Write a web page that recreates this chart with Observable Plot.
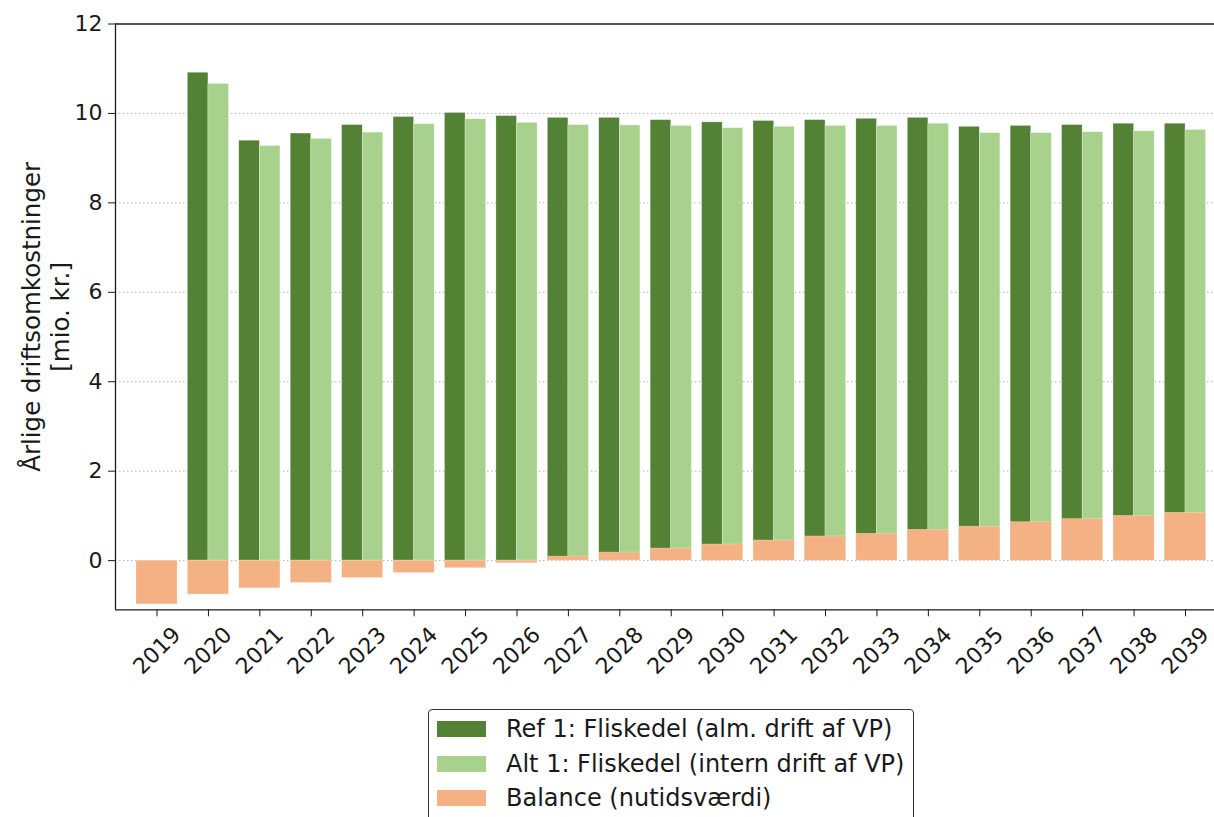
<!DOCTYPE html>
<html>
<head>
<meta charset="utf-8">
<script src="https://cdn.jsdelivr.net/npm/d3@7"></script>
<script src="https://cdn.jsdelivr.net/npm/@observablehq/plot@0.6"></script>
<style>
  html, body { margin: 0; padding: 0; background: #fff; }
  body { font-family: "DejaVu Sans", sans-serif; color: #1a1a1a; width: 1214px; height: 817px; overflow: hidden; position: relative; }
  #chart svg { display: block; }
  .legend { position: absolute; left: 428px; top: 709px; width: 486px; height: 130px; border: 1.5px solid #333; border-radius: 4px; box-sizing: border-box; padding-top: 2px; }
  .legend .row { display: flex; align-items: center; height: 34.5px; }
  .legend .sw { width: 49px; height: 16px; margin-left: 8px; margin-right: 20px; flex: none; }
  .legend .lab { font-size: 24px; color: #1a1a1a; white-space: nowrap; }
</style>
</head>
<body>
<div id="chart"></div>
<div class="legend" id="legend"></div>
<script>
const years = [2019, 2020, 2021, 2022, 2023, 2024, 2025, 2026, 2027, 2028, 2029, 2030, 2031, 2032, 2033, 2034, 2035, 2036, 2037, 2038, 2039];
const ref1 = [null, 10.91, 9.39, 9.55, 9.74, 9.92, 10.01, 9.94, 9.90, 9.90, 9.85, 9.80, 9.83, 9.85, 9.88, 9.90, 9.70, 9.72, 9.74, 9.77, 9.77];
const alt1 = [null, 10.66, 9.27, 9.43, 9.57, 9.76, 9.87, 9.79, 9.74, 9.73, 9.72, 9.67, 9.70, 9.72, 9.72, 9.77, 9.56, 9.56, 9.58, 9.60, 9.63];
const balance = [-0.98, -0.76, -0.62, -0.50, -0.39, -0.28, -0.17, -0.06, 0.09, 0.18, 0.27, 0.36, 0.45, 0.54, 0.60, 0.69, 0.76, 0.86, 0.93, 1.00, 1.07];
const seriesNames = ["Ref 1: Fliskedel (alm. drift af VP)", "Alt 1: Fliskedel (intern drift af VP)", "Balance (nutidsværdi)"];
const seriesColors = ["#548235", "#A9D18E", "#F4B183"];
const yTicks = [0, 2, 4, 6, 8, 10, 12];
const yLabel = "Årlige driftsomkostninger\n[mio. kr.]";

const rows = years.map((year, i) => ({year, ref: ref1[i], alt: alt1[i], bal: balance[i]}));
const greenRows = rows.filter(d => d.ref != null);
const xDomain = [2018.193, 2039.564];
const yDomain = [-1.1, 12];

const chart = Plot.plot({
  width: 1214,
  height: 700,
  marginLeft: 115,
  marginRight: 0,
  marginTop: 23.5,
  marginBottom: 90.7,
  style: {fontFamily: "DejaVu Sans", fontSize: "22px", color: "#1a1a1a", background: "white"},
  x: {type: "linear", domain: xDomain, axis: null},
  y: {domain: yDomain, axis: null},
  marks: [
    Plot.gridY(yTicks.filter(t => t < d3.max(yTicks)), {stroke: "#b0b0b0", strokeOpacity: 1, strokeWidth: 1, strokeDasharray: "1.5,2.5"}),
    Plot.rect(greenRows, {x1: d => d.year - 0.4, x2: d => d.year, y1: 0, y2: "ref", fill: seriesColors[0], stroke: "white", strokeWidth: 0.5, strokeOpacity: 0.5}),
    Plot.rect(greenRows, {x1: d => d.year, x2: d => d.year + 0.4, y1: 0, y2: "alt", fill: seriesColors[1], stroke: "white", strokeWidth: 0.5, strokeOpacity: 0.5}),
    Plot.rect(rows, {x1: d => d.year - 0.4, x2: d => d.year + 0.4, y1: 0, y2: "bal", fill: seriesColors[2], stroke: "white", strokeWidth: 0.5, strokeOpacity: 0.5}),
    Plot.ruleY([d3.max(yTicks)], {stroke: "#1a1a1a", strokeWidth: 1.3}),
    Plot.ruleY([yDomain[0]], {stroke: "#1a1a1a", strokeWidth: 1.3}),
    Plot.ruleX([xDomain[0]], {stroke: "#1a1a1a", strokeWidth: 1.3}),
    Plot.axisY({ticks: yTicks, tickSize: 7, tickPadding: 6, label: null, fontSize: 22, tickFormat: d => String(d)}),
    Plot.axisX({ticks: years, tickSize: 7, tickFormat: () => "", label: null}),
    Plot.text(years, {x: d => d, frameAnchor: "bottom", dy: 41, rotate: -45, text: d => String(d), textAnchor: "middle", lineAnchor: "middle", fontSize: 22}),
    Plot.text([yLabel], {frameAnchor: "left", dx: -70, rotate: -90, text: d => d, textAnchor: "middle", lineAnchor: "middle", fontSize: 24.5, lineHeight: 1.16})
  ]
});
document.getElementById("chart").appendChild(chart);

const legend = document.getElementById("legend");
seriesNames.forEach((name, i) => {
  const row = document.createElement("div");
  row.className = "row";
  row.innerHTML = `<div class="sw" style="background:${seriesColors[i]}"></div><div class="lab">${name}</div>`;
  legend.appendChild(row);
});
</script>
</body>
</html>
